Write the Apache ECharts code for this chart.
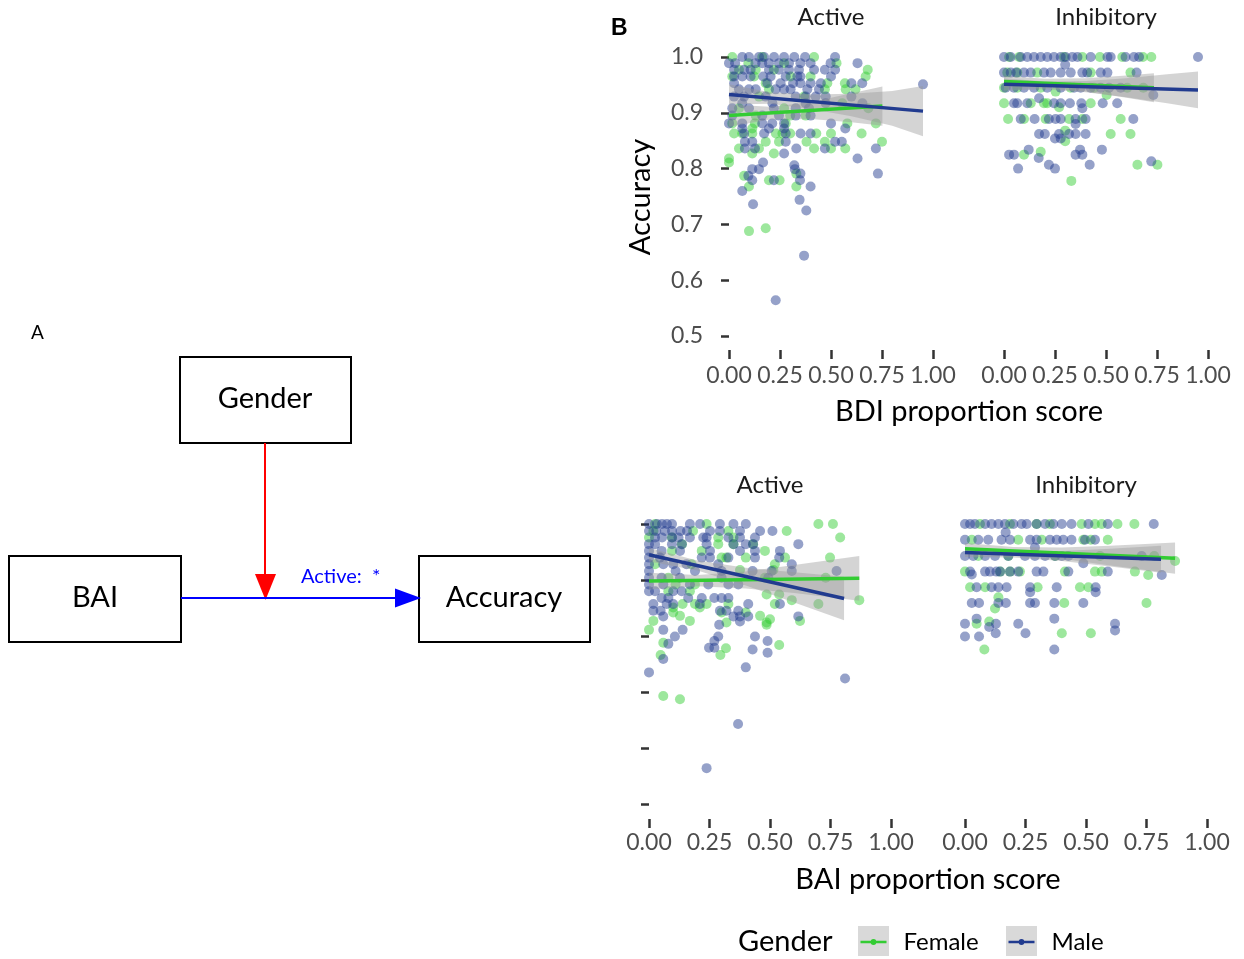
<!DOCTYPE html>
<html>
<head>
<meta charset="utf-8">
<script src="https://cdn.jsdelivr.net/npm/echarts@6/dist/echarts.min.js"></script>
<style>
html,body{margin:0;padding:0;background:#fff;}
#chart{width:1244px;height:959px;}
</style>
</head>
<body>
<div id="chart"></div>
<script>
// ---------------- DATA ----------------
const xTicks = [0, 0.25, 0.5, 0.75, 1];
const yTicks = [0.5, 0.6, 0.7, 0.8, 0.9, 1.0];
const facetLabels = ['Active', 'Inhibitory'];
const genders = ['Female', 'Male'];

// Panel: BDI x Active
const bdiActiveMale = [
[0.065,1],[0.098,1],[0.147,1],[0.172,1],[0.221,1],[0.27,1],[0.32,1],[0.373,1],[0.52,1],
[0,0.989],[0.03,0.989],[0.13,0.989],[0.163,0.989],[0.196,0.989],[0.245,0.989],[0.294,0.989],[0.35,0.989],[0.4,0.989],[0.498,0.989],[0.63,0.989],
[0.025,0.977],[0.074,0.977],[0.106,0.977],[0.196,0.977],[0.245,0.977],[0.294,0.977],[0.343,0.977],[0.417,0.977],[0.47,0.977],[0.52,0.977],
[0.025,0.965],[0.065,0.965],[0.106,0.965],[0.168,0.965],[0.204,0.965],[0.278,0.965],[0.335,0.965],[0.35,0.965],[0.5,0.965],
[0.025,0.953],[0.188,0.953],[0.253,0.953],[0.314,0.953],[0.35,0.953],[0.4,0.953],[0.45,0.953],[0.6,0.953],[0.653,0.953],[0.951,0.951],
[0.049,0.942],[0.098,0.942],[0.131,0.942],[0.229,0.942],[0.27,0.942],[0.302,0.942],[0.384,0.942],[0.441,0.942],
[0.025,0.929],[0.074,0.929],[0.18,0.929],[0.327,0.929],[0.376,0.929],[0.425,0.929],[0.474,0.929],[0.6,0.929],
[0.065,0.917],[0.213,0.917],[0.376,0.917],[0.474,0.917],[0.654,0.917],
[0.016,0.908],[0.098,0.908],[0.22,0.908],[0.327,0.908],[0.392,0.908],
[0.016,0.895],[0.163,0.895],[0.245,0.895],[0.327,0.895],[0.4,0.895],
[0,0.881],[0.065,0.881],[0.163,0.881],[0.212,0.881],[0.27,0.881],[0.5,0.881],
[0.065,0.872],[0.196,0.872],[0.27,0.872],[0.57,0.872],
[0.074,0.863],[0.172,0.863],[0.278,0.863],[0.351,0.863],[0.4,0.863],
[0.078,0.848],[0.114,0.848],[0.278,0.848],[0.52,0.848],[0.553,0.848],
[0.078,0.836],[0.127,0.836],[0.33,0.836],[0.47,0.836],[0.72,0.836],
[0.27,0.827],[0.63,0.818],[0.167,0.811],[0.32,0.806],
[0.114,0.799],[0.147,0.799],[0.323,0.799],[0.35,0.791],[0.73,0.791],[0.095,0.787],
[0.114,0.779],[0.22,0.779],[0.348,0.779],[0.4,0.768],[0.065,0.76],[0.346,0.744],[0.118,0.736],[0.379,0.725],[0.368,0.644],[0.229,0.564]
];
const bdiActiveFemale = [
[0.016,1],[0.163,1],[0.417,1],
[0.095,0.989],[0.27,0.989],[0.527,0.989],
[0.049,0.977],[0.131,0.977],[0.22,0.977],[0.68,0.977],
[0.016,0.965],[0.123,0.965],[0.302,0.965],[0.4,0.965],[0.67,0.965],
[0.18,0.953],[0.482,0.953],[0.568,0.953],
[0.196,0.942],[0.47,0.942],[0.572,0.942],[0.62,0.942],
[0.147,0.929],[0.368,0.929],[0.555,0.917],
[0.049,0.908],[0.27,0.908],[0.683,0.908],
[0.131,0.895],[0.3,0.895],[0.376,0.895],
[0.016,0.881],[0.127,0.881],[0.278,0.881],[0.58,0.881],[0.72,0.881],
[0.114,0.872],
[0.025,0.863],[0.065,0.863],[0.114,0.863],[0.23,0.863],[0.262,0.863],[0.3,0.863],[0.428,0.863],[0.5,0.863],[0.65,0.863],
[0.18,0.848],[0.245,0.848],[0.38,0.848],[0.47,0.848],[0.75,0.848],
[0.049,0.836],[0.147,0.836],[0.417,0.836],[0.5,0.836],[0.57,0.836],
[0.114,0.827],[0.22,0.827],[0,0.818],[0,0.811],[0.33,0.791],[0.074,0.787],[0.196,0.779],[0.248,0.779],[0.098,0.768],[0.33,0.768],[0.18,0.693],[0.098,0.688]
];
const bdiActiveMaleFit = [[0,0.933],[0.951,0.903]];
const bdiActiveFemaleFit = [[0,0.895],[0.752,0.912]];
const bdiActiveMaleBand = [[0,0.915,0.951],[0.2,0.916,0.937],[0.4,0.907,0.933],[0.6,0.894,0.934],[0.8,0.877,0.939],[0.951,0.858,0.948]];
const bdiActiveFemaleBand = [[0,0.875,0.915],[0.2,0.888,0.911],[0.4,0.889,0.919],[0.6,0.883,0.935],[0.752,0.877,0.947]];

// Panel: BDI x Inhibitory
const bdiInhibMale = [
[0,1],[0.033,1],[0.082,1],[0.114,1],[0.147,1],[0.18,1],[0.212,1],[0.245,1],[0.278,1],[0.302,1],[0.335,1],[0.36,1],[0.425,1],[0.507,1],[0.523,1],[0.596,1],[0.637,1],[0.662,1],[0.951,1],
[0.3,0.986],
[0,0.972],[0.033,0.972],[0.06,0.972],[0.098,0.972],[0.131,0.972],[0.196,0.972],[0.229,0.972],[0.278,0.972],[0.327,0.972],[0.384,0.972],[0.408,0.972],[0.474,0.972],[0.507,0.972],[0.65,0.972],
[0.008,0.945],[0.049,0.945],[0.098,0.945],[0.147,0.945],[0.212,0.945],[0.278,0.945],[0.343,0.945],[0.376,0.945],[0.425,0.945],[0.474,0.945],[0.515,0.945],[0.572,0.945],[0.732,0.932],
[0.049,0.917],[0.065,0.917],[0.114,0.917],[0.172,0.926],[0.245,0.917],[0.278,0.917],[0.323,0.917],[0.379,0.917],[0.384,0.908],[0.484,0.917],[0.555,0.917],
[0.082,0.889],[0.15,0.889],[0.22,0.889],[0.253,0.889],[0.278,0.889],[0.351,0.889],[0.351,0.88],[0.4,0.889],[0.634,0.889],
[0.172,0.862],[0.2,0.862],[0.25,0.854],[0.27,0.862],[0.278,0.854],[0.319,0.862],[0.351,0.862],[0.4,0.862],
[0.121,0.834],[0.373,0.834],[0.48,0.834],[0.351,0.825],[0.384,0.825],
[0.025,0.825],[0.049,0.825],[0.17,0.819],
[0.22,0.807],[0.42,0.807],[0.722,0.813],[0.069,0.8],[0.25,0.8]
];
const bdiInhibFemale = [
[0.025,1],[0.074,1],[0.294,1],[0.384,1],[0.47,1],[0.58,1],[0.681,1],[0.722,1],
[0.016,0.972],[0.065,0.972],[0.163,0.972],[0.425,0.972],[0.62,0.972],
[0,0.945],[0.065,0.945],[0.18,0.945],[0.253,0.938],[0.327,0.945],[0.441,0.945],[0.604,0.945],[0.683,0.945],[0.503,0.932],
[0,0.917],[0.131,0.917],[0.212,0.917],[0.196,0.917],[0.27,0.91],[0.425,0.917],
[0.02,0.889],[0.098,0.889],[0.204,0.889],[0.319,0.889],[0.384,0.889],[0.572,0.889],
[0.3,0.868],[0.3,0.849],[0.523,0.862],[0.62,0.862],
[0.18,0.83],[0.098,0.825],
[0.654,0.807],[0.752,0.807],
[0.33,0.778]
];
const bdiInhibMaleFit = [[0,0.951],[0.951,0.941]];
const bdiInhibFemaleFit = [[0,0.956],[0.735,0.945]];
const bdiInhibMaleBand = [[0,0.940,0.962],[0.2,0.942,0.956],[0.4,0.937,0.957],[0.6,0.928,0.962],[0.8,0.917,0.969],[0.951,0.908,0.974]];
const bdiInhibFemaleBand = [[0,0.946,0.966],[0.2,0.945,0.961],[0.4,0.938,0.962],[0.6,0.927,0.967],[0.735,0.919,0.971]];

// Panel: BAI x Active
const baiActiveMale = [
[0,1],[0.033,1],[0.054,1],[0.074,1],[0.095,1],[0.169,1],[0.211,1],[0.293,1],[0.349,1],[0.4,1],
[0,0.9875],[0.03,0.9875],[0.066,0.9875],[0.095,0.9875],[0.13,0.9875],[0.157,0.9875],[0.252,0.9875],[0.293,0.9875],[0.376,0.9875],[0.459,0.9875],[0.51,0.9875],
[0.025,0.976],[0.054,0.976],[0.095,0.976],[0.122,0.976],[0.169,0.976],[0.224,0.976],[0.238,0.976],[0.328,0.976],[0.376,0.976],[0.438,0.976],
[0,0.964],[0.025,0.964],[0.095,0.964],[0.136,0.964],[0.238,0.964],[0.349,0.964],[0.4,0.964],[0.43,0.964],[0.617,0.964],
[0,0.952],[0.052,0.952],[0.128,0.952],[0.252,0.952],[0.376,0.952],[0.438,0.952],[0.541,0.952],
[0,0.94],[0.045,0.94],[0.218,0.94],[0.252,0.94],[0.328,0.94],[0.438,0.94],[0.538,0.94],
[0,0.928],[0.059,0.928],[0.1,0.928],[0.155,0.928],[0.286,0.928],[0.59,0.928],
[0,0.916],[0.11,0.916],[0.19,0.916],[0.3,0.916],[0.428,0.916],[0.507,0.916],[0.59,0.916],[0.775,0.916],
[0,0.904],[0.052,0.904],[0.128,0.904],[0.3,0.904],[0.493,0.904],
[0,0.892],[0.059,0.892],[0.169,0.892],[0.245,0.892],[0.328,0.892],[0.369,0.892],
[0,0.88],[0.025,0.88],[0.1,0.88],[0.135,0.88],
[0.052,0.868],[0.08,0.868],[0.162,0.868],[0.218,0.868],[0.27,0.868],[0.3,0.868],[0.328,0.868],
[0.018,0.857],[0.073,0.857],[0.1,0.857],[0.21,0.857],[0.41,0.857],[0.541,0.857],
[0.018,0.845],[0.048,0.845],[0.293,0.845],[0.32,0.845],[0.369,0.845],
[0.059,0.835],[0.349,0.835],[0.376,0.835],[0.41,0.835],[0.617,0.835],
[0.376,0.826],[0.29,0.82],[0.059,0.811],[0.139,0.811],
[0.107,0.799],[0.286,0.799],[0.438,0.799],[0.27,0.791],[0.49,0.791],[0.08,0.786],
[0.248,0.779],[0.27,0.779],[0.428,0.776],[0.49,0.77],[0.059,0.759],[0.4,0.744],[0,0.735],[0.81,0.724],[0.368,0.643],[0.238,0.564]
];
const baiActiveFemale = [
[0.025,1],[0.238,1],[0.7,1],[0.76,1],
[0.018,0.9875],[0.182,0.9875],[0.328,0.9875],[0.569,0.9875],
[0,0.976],[0.095,0.976],[0.286,0.976],[0.349,0.976],[0.79,0.976],
[0.136,0.964],[0.286,0.964],[0.349,0.964],[0.43,0.964],
[0.095,0.952],[0.218,0.952],[0.479,0.952],
[0.3,0.94],[0.32,0.94],[0.4,0.94],[0.562,0.94],[0.748,0.94],
[0.025,0.928],[0.176,0.928],[0.52,0.928],
[0.376,0.918],[0.514,0.918],
[0.08,0.904],[0.479,0.904],[0.73,0.904],
[0.11,0.892],[0.19,0.892],
[0.08,0.88],[0.169,0.88],
[0.486,0.874],[0.538,0.874],
[0.59,0.864],[0.869,0.864],
[0.139,0.857],[0.19,0.857],[0.238,0.857],[0.328,0.857],[0.52,0.857],[0.7,0.857],
[0.1,0.851],[0.21,0.851],
[0.1,0.842],[0.3,0.842],[0.4,0.842],
[0.128,0.836],[0.459,0.836],[0.5,0.83],
[0.018,0.827],[0.169,0.827],[0.624,0.827],[0.32,0.824],[0.486,0.824],[0.486,0.82],
[0,0.811],[0.059,0.788],[0.538,0.784],[0.318,0.778],[0.048,0.766],[0.295,0.766],[0.059,0.693],[0.128,0.687]
];
const baiActiveMaleFit = [[0,0.945],[0.806,0.867]];
const baiActiveFemaleFit = [[0,0.898],[0.869,0.903]];
const baiActiveMaleBand = [[0,0.933,0.957],[0.2,0.917,0.935],[0.4,0.890,0.922],[0.6,0.860,0.914],[0.806,0.828,0.906]];
const baiActiveFemaleBand = [[0,0.883,0.913],[0.2,0.889,0.909],[0.4,0.885,0.915],[0.6,0.877,0.927],[0.869,0.863,0.943]];

// Panel: BAI x Inhibitory
const baiInhibMale = [
[0,1],[0.021,1],[0.041,1],[0.083,1],[0.11,1],[0.138,1],[0.165,1],[0.2,1],[0.234,1],[0.255,1],[0.296,1],[0.331,1],[0.365,1],[0.4,1],[0.44,1],[0.51,1],[0.59,1],[0.78,1],
[0.168,0.985],
[0,0.972],[0.055,0.972],[0.096,0.972],[0.151,0.972],[0.186,0.972],[0.269,0.972],[0.296,0.972],[0.351,0.972],[0.379,0.972],[0.406,0.972],[0.44,0.972],[0.496,0.972],[0.537,0.972],
[0.289,0.958],
[0,0.943],[0.034,0.943],[0.083,0.943],[0.124,0.943],[0.179,0.943],[0.248,0.943],[0.289,0.943],[0.331,0.943],[0.372,0.943],[0.4,0.943],[0.427,0.943],[0.73,0.943],[0.489,0.93],[0.813,0.909],
[0.021,0.915],[0.028,0.91],[0.083,0.915],[0.103,0.915],[0.13,0.915],[0.145,0.915],[0.186,0.915],[0.22,0.915],[0.296,0.915],[0.324,0.915],[0.427,0.915],[0.59,0.915],
[0.048,0.887],[0.11,0.887],[0.138,0.887],[0.172,0.887],[0.269,0.887],[0.379,0.887],[0.54,0.887],[0.269,0.878],[0.54,0.878],
[0.028,0.859],[0.058,0.859],[0.138,0.859],[0.169,0.859],[0.269,0.859],[0.289,0.859],[0.369,0.859],[0.489,0.859],
[0.048,0.831],[0.369,0.831],[0,0.822],[0.128,0.822],[0.22,0.822],[0.62,0.822],[0.1,0.816],[0.62,0.81],
[0.127,0.805],[0.25,0.805],[0,0.799],[0.058,0.799],[0.369,0.776]
];
const baiInhibFemale = [
[0.062,1],[0.186,1],[0.296,1],[0.351,1],[0.482,1],[0.537,1],[0.565,1],[0.63,1],[0.7,1],
[0.028,0.972],[0.22,0.972],[0.317,0.972],[0.489,0.972],[0.52,0.972],[0.59,0.972],
[0.055,0.943],[0.179,0.943],[0.372,0.943],[0.558,0.943],[0.782,0.943],
[0,0.915],[0.145,0.915],[0.186,0.915],[0.227,0.915],[0.413,0.915],[0.537,0.915],[0.565,0.915],[0.702,0.915],[0.757,0.909],[0.868,0.934],
[0.021,0.887],[0.083,0.887],[0.3,0.887],[0.475,0.887],[0.51,0.887],
[0.138,0.869],[0.124,0.849],[0.41,0.859],[0.75,0.859],
[0.048,0.822],[0.1,0.826],[0.4,0.805],[0.52,0.805],[0.08,0.776]
];
const baiInhibMaleFit = [[0,0.949],[0.81,0.937]];
const baiInhibFemaleFit = [[0,0.956],[0.868,0.939]];
const baiInhibMaleBand = [[0,0.941,0.957],[0.2,0.940,0.952],[0.4,0.934,0.952],[0.6,0.924,0.956],[0.81,0.913,0.961]];
const baiInhibFemaleBand = [[0,0.946,0.966],[0.2,0.945,0.959],[0.4,0.938,0.958],[0.6,0.926,0.961],[0.868,0.911,0.967]];

// ---------------- STYLE / LAYOUT ----------------
const FONT = 'Lato';
const COL = {
  Female: {line: '#33CC33', point: 'rgba(51,204,51,0.6)'},
  Male: {line: '#213B8F', point: 'rgba(33,59,143,0.6)'}
};
const BAND_FILL = 'rgba(153,153,153,0.42)';

const grids = [
  {left: 729, top: 57, width: 204, height: 279},
  {left: 1004, top: 57, width: 204, height: 279},
  {left: 649, top: 524, width: 242, height: 280},
  {left: 965, top: 524, width: 242, height: 280}
];

const panels = [
  {f: bdiActiveFemale, m: bdiActiveMale, fFit: bdiActiveFemaleFit, mFit: bdiActiveMaleFit, fBand: bdiActiveFemaleBand, mBand: bdiActiveMaleBand},
  {f: bdiInhibFemale, m: bdiInhibMale, fFit: bdiInhibFemaleFit, mFit: bdiInhibMaleFit, fBand: bdiInhibFemaleBand, mBand: bdiInhibMaleBand},
  {f: baiActiveFemale, m: baiActiveMale, fFit: baiActiveFemaleFit, mFit: baiActiveMaleFit, fBand: baiActiveFemaleBand, mBand: baiActiveMaleBand},
  {f: baiInhibFemale, m: baiInhibMale, fFit: baiInhibFemaleFit, mFit: baiInhibMaleFit, fBand: baiInhibFemaleBand, mBand: baiInhibMaleBand}
];

const tickLine = {color: '#333333', width: 2.5};

const xAxes = grids.map((g, i) => ({
  type: 'value', gridIndex: i, min: xTicks[0], max: xTicks[xTicks.length - 1], interval: 0.25,
  offset: i < 2 ? 14 : 15,
  axisLine: {show: false},
  axisTick: {show: true, length: 9, lineStyle: tickLine},
  splitLine: {show: false},
  axisLabel: {show: true, fontFamily: FONT, fontSize: 23, color: '#4D4D4D', margin: i < 2 ? 14 : 12,
    formatter: v => v.toFixed(2)}
}));
const yAxes = grids.map((g, i) => ({
  type: 'value', gridIndex: i, min: yTicks[0], max: yTicks[yTicks.length - 1], interval: 0.1,
  offset: i < 2 ? 11 : 13,
  axisLine: {show: false},
  axisTick: {show: i === 0 || i === 2, length: 8, lineStyle: tickLine},
  splitLine: {show: false},
  axisLabel: {show: i === 0, fontFamily: FONT, fontSize: 23, color: '#4D4D4D', margin: 15,
    formatter: v => v.toFixed(1)}
}));

function bandRenderer(band) {
  return function (params, api) {
    const pts = [];
    for (let k = 0; k < band.length; k++) pts.push(api.coord([band[k][0], band[k][2]]));
    for (let k = band.length - 1; k >= 0; k--) pts.push(api.coord([band[k][0], band[k][1]]));
    return {type: 'polygon', shape: {points: pts}, style: {fill: BAND_FILL}};
  };
}

const lineSeries = [], scatterSeries = [], bandSeries = [];
panels.forEach((p, i) => {
  genders.forEach(gname => {
    const isF = gname === 'Female';
    lineSeries.push({
      name: gname, type: 'line', xAxisIndex: i, yAxisIndex: i,
      data: isF ? p.fFit : p.mFit, showSymbol: false, symbol: 'none', silent: true,
      lineStyle: {color: COL[gname].line, width: 3.5}, itemStyle: {color: COL[gname].line}, z: 5
    });
    scatterSeries.push({
      name: gname, type: 'scatter', xAxisIndex: i, yAxisIndex: i, clip: false,
      data: isF ? p.f : p.m, symbol: 'circle', symbolSize: 10, silent: true,
      itemStyle: {color: COL[gname].point, borderWidth: 0}, z: 2
    });
    const band = isF ? p.fBand : p.mBand;
    bandSeries.push({
      name: 'ci-' + gname, type: 'custom', xAxisIndex: i, yAxisIndex: i, silent: true,
      data: [[band[0][0], band[0][1]]], renderItem: bandRenderer(band), z: 3
    });
  });
});

// legend icon: line with dot
const legendIcon = 'path://M0,2.2 L26,2.2 L26,4.8 L0,4.8 Z M13,0.6 A2.9,2.9 0 1 1 12.99,0.6 Z';

function txt(text, x, y, size, opts) {
  opts = opts || {};
  return {
    type: 'text', x: x, y: y, rotation: opts.rotation || 0, z: 10, silent: true,
    style: {
      text: text, fill: opts.color || '#000000',
      font: (opts.weight || 'normal') + ' ' + size + 'px ' + (opts.family || FONT),
      textAlign: opts.align || 'center', textVerticalAlign: 'middle',
      align: opts.align || 'center', verticalAlign: 'middle'
    }
  };
}
function box(x, y, w, h) {
  return {type: 'rect', shape: {x: x, y: y, width: w, height: h}, silent: true,
    style: {fill: '#ffffff', stroke: '#000000', lineWidth: 2}};
}

const graphics = [
  // Panel A diagram
  txt('A', 31, 333, 19, {align: 'left'}),
  box(180, 357, 171, 86),
  box(9, 556, 172, 86),
  box(419, 556, 171, 86),
  txt('Gender', 265, 399, 29),
  txt('BAI', 95, 598, 29),
  txt('Accuracy', 504, 598, 29),
  {type: 'line', silent: true, shape: {x1: 265, y1: 443, x2: 265, y2: 578}, style: {stroke: '#FF0000', lineWidth: 2}},
  {type: 'polygon', silent: true, shape: {points: [[255, 574], [276, 574], [265.5, 600]]}, style: {fill: '#FF0000'}},
  {type: 'line', silent: true, shape: {x1: 181, y1: 598, x2: 398, y2: 598}, style: {stroke: '#0000FF', lineWidth: 2}},
  {type: 'polygon', silent: true, shape: {points: [[395, 588.5], [395, 607.5], [421, 598]]}, style: {fill: '#0000FF'}},
  txt('Active:  *', 301, 577, 20, {align: 'left', color: '#0000FF'}),
  // Panel B labels
  txt('B', 611, 29, 23, {align: 'left', weight: 'bold', family: 'Liberation Sans, Arial'}),
  txt(facetLabels[0], 831, 17, 24, {color: '#1A1A1A'}),
  txt(facetLabels[1], 1106, 17, 24, {color: '#1A1A1A'}),
  txt(facetLabels[0], 770, 485, 24, {color: '#1A1A1A'}),
  txt(facetLabels[1], 1086, 485, 24, {color: '#1A1A1A'}),
  txt('BDI proportion score', 969, 412, 29),
  txt('BAI proportion score', 928, 880, 29),
  txt('Accuracy', 641, 197, 29, {rotation: Math.PI / 2}),
  // legend
  txt('Gender', 738, 942, 29, {align: 'left'}),
  {type: 'rect', silent: true, z: 0, shape: {x: 858, y: 926, width: 31, height: 30}, style: {fill: '#D9D9D9'}},
  {type: 'rect', silent: true, z: 0, shape: {x: 1006, y: 926, width: 31, height: 30}, style: {fill: '#D9D9D9'}}
];

const legendBase = {
  orient: 'horizontal', top: 930, itemWidth: 26, itemHeight: 24, icon: legendIcon,
  selectedMode: false, padding: 0,
  textStyle: {fontFamily: FONT, fontSize: 24, color: '#000000', padding: [0, 0, 0, 12]}
};

const option = {
  animation: false,
  backgroundColor: '#ffffff',
  textStyle: {fontFamily: FONT},
  grid: grids.map(g => Object.assign({containLabel: false}, g)),
  xAxis: xAxes,
  yAxis: yAxes,
  legend: [
    Object.assign({}, legendBase, {left: 860.5, data: [genders[0]]}),
    Object.assign({}, legendBase, {left: 1008.5, data: [genders[1]]})
  ],
  graphic: {elements: graphics},
  series: lineSeries.concat(scatterSeries, bandSeries)
};

const chart = echarts.init(document.getElementById('chart'), null, {renderer: 'canvas'});
chart.setOption(option);
</script>
</body>
</html>
